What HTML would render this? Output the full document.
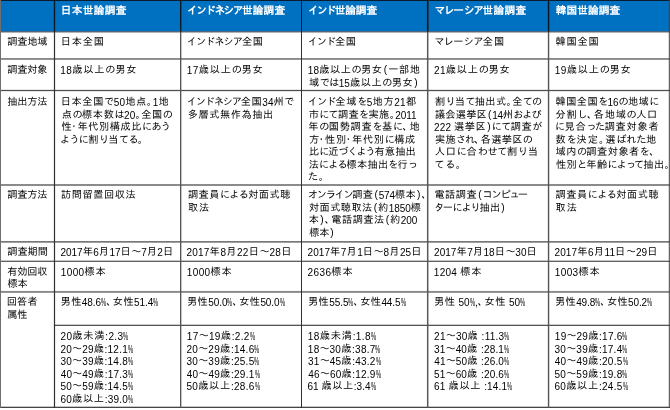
<!DOCTYPE html>
<html lang="ja"><head><meta charset="utf-8"><title>世論調査 調査概要</title>
<style>
html,body{margin:0;padding:0;background:#fff;}
body{width:670px;height:410px;position:relative;overflow:hidden;font-family:"Liberation Sans","IPAGothic","Noto Sans CJK JP",sans-serif;font-size:10.2px;line-height:12.5px;color:#000;}
.g{position:absolute;left:0;top:0;}
.c{position:absolute;white-space:nowrap;will-change:transform;}
.c div{height:12.5px;}
.c div.s{height:12px;}
.hb{color:#fff;font-weight:bold;font-size:10.67px;}
.d{position:relative;top:1px;font-size:10px;}
.p{display:inline-block;width:5.2px;letter-spacing:0;transform:scaleX(.58);transform-origin:0 50%;}
</style></head><body>
<svg class="g" width="670" height="410" viewBox="0 0 670 410">
<rect x="0" y="0" width="670" height="31.5" fill="#0070c0"/>
<rect x="0" y="0" width="670" height="1" fill="#0c1c2c"/>
<rect x="0" y="31.3" width="669.8" height="1.1" fill="#3a4450"/>
<rect x="0" y="58.05" width="669.8" height="1.8" fill="#848484"/>
<rect x="0" y="89.85" width="669.8" height="1.3" fill="#505050"/>
<rect x="0" y="184.15" width="669.8" height="1.7" fill="#787878"/>
<rect x="0" y="241.0" width="669.8" height="1.7" fill="#787878"/>
<rect x="0" y="260.65" width="669.8" height="1.35" fill="#606060"/>
<rect x="0" y="290.95" width="669.8" height="1.9" fill="#888888"/>
<rect x="0" y="406.7" width="669.8" height="1.3" fill="#444444"/>
<rect x="53.9" y="324.7" width="615.9" height="1.3" fill="#555"/>
<rect x="0" y="0" width="1" height="408" fill="#6e6e6e"/>
<rect x="53.9" y="0" width="1.2" height="408" fill="#303030"/>
<rect x="53.9" y="0" width="1.2" height="31.6" fill="#0a1622"/>
<rect x="180.0" y="0" width="1.35" height="408" fill="#555555"/>
<rect x="180.0" y="0" width="1.35" height="31.6" fill="#0a1622"/>
<rect x="301.0" y="0" width="1.0" height="408" fill="#303030"/>
<rect x="301.0" y="0" width="1.0" height="31.6" fill="#0a1622"/>
<rect x="426.95" y="0" width="1.5" height="408" fill="#585858"/>
<rect x="426.95" y="0" width="1.5" height="31.6" fill="#0a1622"/>
<rect x="547.85" y="0" width="1.4" height="408" fill="#555555"/>
<rect x="547.85" y="0" width="1.4" height="31.6" fill="#0a1622"/>
<rect x="668.8" y="0" width="1.0" height="408" fill="#404040"/>
</svg>
<div class="c hb" style="left:62px;top:4.0px"><div style="letter-spacing:0.32px;margin-left:-1.15px">日本世論調査</div></div>
<div class="c hb" style="left:187px;top:4.0px"><div style="letter-spacing:-1.51px">インドネシア<span style="letter-spacing:0.19px">世論調査</span></div></div>
<div class="c hb" style="left:308px;top:4.0px"><div style="letter-spacing:-1.77px">インド<span style="letter-spacing:-0.07px">世論調査</span></div></div>
<div class="c hb" style="left:434px;top:4.0px"><div style="letter-spacing:-1.35px;margin-left:0.65px">マレ<span style="letter-spacing:-0.05px">ー</span>シア<span style="letter-spacing:0.35px">世論調査</span></div></div>
<div class="c hb" style="left:555px;top:4.0px"><div style="letter-spacing:0.1px;margin-left:0.75px">韓国世論調査</div></div>
<div class="c" style="left:7px;top:36.0px"><div style="letter-spacing:-0.15px;margin-left:0.20px">調査地域</div></div>
<div class="c" style="left:61px;top:36.0px"><div style="letter-spacing:0.87px;margin-left:-0.35px">日本全国</div></div>
<div class="c" style="left:187px;top:36.0px"><div style="letter-spacing:-0.99px;margin-left:-0.25px">インドネシア<span style="letter-spacing:0.71px">全国</span></div></div>
<div class="c" style="left:308px;top:36.0px"><div style="letter-spacing:-1.11px;margin-left:-0.25px">インド<span style="letter-spacing:0.59px">全国</span></div></div>
<div class="c" style="left:434px;top:36.0px"><div style="letter-spacing:-0.71px;margin-left:0.40px">マレ<span style="letter-spacing:0.19px">ー</span>シア<span style="letter-spacing:0.99px">全国</span></div></div>
<div class="c" style="left:555px;top:36.0px"><div style="letter-spacing:0.78px;margin-left:0.50px">韓国全国</div></div>
<div class="c" style="left:7px;top:64.0px"><div style="letter-spacing:-0.2px;margin-left:0.20px">調査対象</div></div>
<div class="c" style="left:60px;top:64.0px"><div style="letter-spacing:0.88px;margin-left:0.25px"><span class="d" style="letter-spacing:0.38px">18</span>歳以上<span style="letter-spacing:-0.42px">の</span>男女</div></div>
<div class="c" style="left:187px;top:64.0px"><div style="letter-spacing:0.85px;margin-left:-0.15px"><span class="d" style="letter-spacing:0.35px">17</span>歳以上<span style="letter-spacing:-0.45px">の</span>男女</div></div>
<div class="c" style="left:308px;top:64.0px"><div style="letter-spacing:0.6px;margin-left:-0.15px"><span class="d" style="letter-spacing:0.1px">18</span>歳以上<span style="letter-spacing:-0.7px">の</span>男<span style="letter-spacing:1.6px">女</span><span style="letter-spacing:1.1px">(</span>一部地</div><div style="letter-spacing:0.59px;margin-left:0.90px">域<span style="letter-spacing:-0.71px">では</span><span class="d" style="letter-spacing:0.09px">15</span>歳以上<span style="letter-spacing:-0.71px">の</span>男<span style="letter-spacing:1.59px">女</span><span style="letter-spacing:1.09px">)</span></div></div>
<div class="c" style="left:434px;top:64.0px"><div style="letter-spacing:0.81px;margin-left:0.10px"><span class="d" style="letter-spacing:0.31px">21</span>歳以上<span style="letter-spacing:-0.49px">の</span>男女</div></div>
<div class="c" style="left:555px;top:64.0px"><div style="letter-spacing:0.85px;margin-left:-0.15px"><span class="d" style="letter-spacing:0.35px">19</span>歳以上<span style="letter-spacing:-0.45px">の</span>男女</div></div>
<div class="c" style="left:7px;top:96.0px"><div style="letter-spacing:-0.15px;margin-left:0.20px">抽出方法</div></div>
<div class="c" style="left:61px;top:96.0px"><div style="letter-spacing:0.67px;margin-left:-0.35px">日本全国<span style="letter-spacing:-0.63px">で</span><span class="d" style="letter-spacing:0.17px">50</span>地点<span style="letter-spacing:-4.33px">。</span><span class="d" style="letter-spacing:0.17px">1</span>地</div><div style="letter-spacing:0.63px;margin-left:0.65px">点<span style="letter-spacing:-0.67px">の</span>標本数<span style="letter-spacing:-0.67px">は</span><span class="d" style="letter-spacing:0.13px">20</span><span style="letter-spacing:-4.37px">。</span>全国の</div><div style="letter-spacing:0.55px;margin-left:0.50px"><span style="letter-spacing:-2.95px">性</span><span style="letter-spacing:-1.45px">・</span>年代別構成比<span style="letter-spacing:-0.75px">にあう</span></div><div style="letter-spacing:-0.81px;margin-left:-0.90px">ように<span style="letter-spacing:0.49px">割</span>り<span style="letter-spacing:0.49px">当</span>てる。</div></div>
<div class="c" style="left:187px;top:96.0px"><div style="letter-spacing:-1.17px;margin-left:-0.25px">インドネシア<span style="letter-spacing:0.53px">全国</span><span class="d" style="letter-spacing:0.03px">34</span><span style="letter-spacing:0.53px">州で</span></div><div style="letter-spacing:0.59px;margin-left:0.65px">多層式無作為抽出</div></div>
<div class="c" style="left:308px;top:96.0px"><div style="letter-spacing:0.71px;margin-left:-0.25px"><span style="letter-spacing:-0.99px">インド</span>全域<span style="letter-spacing:-0.59px">を</span><span class="d" style="letter-spacing:0.21px">5</span>地方<span class="d" style="letter-spacing:0.21px">21</span>都</div><div style="letter-spacing:0.42px;margin-left:0.65px">市<span style="letter-spacing:-0.88px">にて</span>調査<span style="letter-spacing:-0.88px">を</span>実施<span style="letter-spacing:-4.58px">。</span><span class="d" style="letter-spacing:-0.08px">2011</span></div><div style="letter-spacing:0.72px;margin-left:0.25px">年<span style="letter-spacing:-0.58px">の</span>国勢調査<span style="letter-spacing:-0.58px">を</span>基<span style="letter-spacing:-0.58px">に</span><span style="letter-spacing:-3.29px">、地</span></div><div style="letter-spacing:0.65px;margin-left:0.90px"><span style="letter-spacing:-2.85px">方</span><span style="letter-spacing:-1.35px">・</span>性<span style="letter-spacing:-2.85px">別</span><span style="letter-spacing:-1.35px">・</span>年代別<span style="letter-spacing:-0.65px">に</span>構成</div><div style="letter-spacing:0.12px;margin-left:0.90px">比<span style="letter-spacing:-1.18px">に</span>近<span style="letter-spacing:-1.18px">づくよう</span>有意抽出</div><div style="letter-spacing:0.26px;margin-left:0.65px">法<span style="letter-spacing:-1.04px">による</span>標本抽出<span style="letter-spacing:-1.04px">を</span>行っ</div><div style="letter-spacing:0.5px">た。</div></div>
<div class="c" style="left:434px;top:96.0px"><div style="letter-spacing:0.42px;margin-left:0.90px">割<span style="letter-spacing:-0.89px">り</span>当<span style="letter-spacing:-0.89px">て</span>抽出式<span style="letter-spacing:-4.58px">。</span>全<span style="letter-spacing:-0.89px">ての</span></div><div style="letter-spacing:0.24px;margin-left:0.90px">議会選挙<span style="letter-spacing:1.24px">区</span><span style="letter-spacing:0.74px">(</span><span class="d" style="letter-spacing:-0.26px">14</span>州<span style="letter-spacing:-1.06px">および</span></div><div style="letter-spacing:0.08px;margin-left:0.10px"><span class="d">222</span> <span style="letter-spacing:0.58px">選挙</span><span style="letter-spacing:1.58px">区</span><span style="letter-spacing:1.08px">)</span><span style="letter-spacing:-0.72px">にて</span><span style="letter-spacing:0.58px">調査が</span></div><div style="letter-spacing:0.3px;margin-left:0.90px">実施<span style="letter-spacing:-1.0px">され</span><span style="letter-spacing:-3.7px">、</span>各選挙区の</div><div style="letter-spacing:-0.42px;margin-left:0.65px"><span style="letter-spacing:0.88px">人口</span>に<span style="letter-spacing:0.88px">合</span>わせて<span style="letter-spacing:0.88px">割</span>り当</div><div style="letter-spacing:0.55px;margin-left:0.40px">てる。</div></div>
<div class="c" style="left:555px;top:96.0px"><div style="letter-spacing:0.47px;margin-left:0.50px">韓国全国<span style="letter-spacing:-0.83px">を</span><span class="d" style="letter-spacing:-0.03px">16</span><span style="letter-spacing:-0.83px">の</span>地域に</div><div style="letter-spacing:0.72px;margin-left:0.50px">分割<span style="letter-spacing:-0.58px">し</span><span style="letter-spacing:-3.28px">、</span>各地域<span style="letter-spacing:-0.58px">の</span>人口</div><div style="letter-spacing:0.77px;margin-left:-0.10px"><span style="letter-spacing:-0.53px">に</span>見合<span style="letter-spacing:-1.73px">っ</span><span style="letter-spacing:-0.53px">た</span>調査対象者</div><div style="letter-spacing:1.01px;margin-left:0.50px">数<span style="letter-spacing:-0.29px">を</span>決定<span style="letter-spacing:-3.99px">。</span>選<span style="letter-spacing:-0.29px">ばれた地</span></div><div style="letter-spacing:0.51px;margin-left:0.50px">域内<span style="letter-spacing:-0.79px">の</span>調査対象者<span style="letter-spacing:-0.79px">を、</span></div><div style="letter-spacing:0.38px;margin-left:0.90px">性別<span style="letter-spacing:-0.92px">と</span>年齢<span style="letter-spacing:-0.92px">によ</span><span style="letter-spacing:-2.12px">っ</span><span style="letter-spacing:-0.92px">て</span>抽出。</div></div>
<div class="c" style="left:7px;top:189.0px"><div style="letter-spacing:-0.15px;margin-left:0.20px">調査方法</div></div>
<div class="c" style="left:61px;top:189.0px"><div style="letter-spacing:0.53px;margin-left:0.10px">訪問留置回収法</div></div>
<div class="c" style="left:187px;top:189.0px"><div style="letter-spacing:0.5px;margin-left:0.90px">調査員<span style="letter-spacing:-0.8px">による</span>対面式聴</div><div style="letter-spacing:0.95px;margin-left:0.90px">取法</div></div>
<div class="c" style="left:308px;top:189.0px"><div style="letter-spacing:-1.33px">オンライン<span style="letter-spacing:0.37px">調</span><span style="letter-spacing:1.37px">査</span><span style="letter-spacing:0.87px">(</span><span class="d" style="letter-spacing:-0.13px">574</span><span style="letter-spacing:0.37px">標</span><span style="letter-spacing:1.37px">本</span><span style="letter-spacing:0.87px">)</span>、</div><div style="letter-spacing:0.45px;margin-left:0.90px">対面式聴取<span style="letter-spacing:1.45px">法</span><span style="letter-spacing:0.95px">(</span>約<span class="d" style="letter-spacing:-0.05px">1850</span>標</div><div style="letter-spacing:0.47px;margin-left:0.65px"><span style="letter-spacing:1.47px">本</span><span style="letter-spacing:0.97px">)</span><span style="letter-spacing:-3.53px">、</span>電話調査<span style="letter-spacing:1.47px">法</span><span style="letter-spacing:0.97px">(</span>約<span class="d" style="letter-spacing:-0.03px">200</span></div><div style="letter-spacing:-0.2px;margin-left:1.15px">標<span style="letter-spacing:0.8px">本</span><span style="letter-spacing:0.3px">)</span></div></div>
<div class="c" style="left:434px;top:189.0px"><div style="letter-spacing:0.49px;margin-left:0.40px">電話調<span style="letter-spacing:1.49px">査</span><span style="letter-spacing:0.99px">(</span><span style="letter-spacing:-1.21px">コンピ</span><span style="letter-spacing:-2.01px">ュー</span></div><div style="letter-spacing:-1.12px;margin-left:0.15px"><span style="letter-spacing:-1.52px">タ</span><span style="letter-spacing:-0.62px">ー</span>により<span style="letter-spacing:0.18px">抽</span><span style="letter-spacing:1.18px">出</span><span style="letter-spacing:0.68px">)</span></div></div>
<div class="c" style="left:555px;top:189.0px"><div style="letter-spacing:0.59px;margin-left:0.50px">調査員<span style="letter-spacing:-0.71px">による</span>対面式聴</div><div style="letter-spacing:0.95px;margin-left:0.50px">取法</div></div>
<div class="c" style="left:7px;top:246.0px"><div style="letter-spacing:0.02px;margin-left:0.20px">調査期間</div></div>
<div class="c" style="left:60px;top:246.0px"><div style="letter-spacing:-0.03px;margin-left:0.50px"><span class="d">2017</span><span style="letter-spacing:0.47px">年</span><span class="d">6</span><span style="letter-spacing:0.47px">月</span><span class="d">17</span><span style="letter-spacing:0.47px">日</span><span style="letter-spacing:-0.33px">〜</span><span class="d">7</span><span style="letter-spacing:0.47px">月</span><span class="d">2</span>日</div></div>
<div class="c" style="left:186px;top:246.0px"><div style="letter-spacing:0.2px;margin-left:0.50px"><span class="d">2017</span><span style="letter-spacing:0.7px">年</span><span class="d">8</span><span style="letter-spacing:0.7px">月</span><span class="d">22</span><span style="letter-spacing:0.7px">日</span><span style="letter-spacing:-0.1px">〜</span><span class="d">28</span>日</div></div>
<div class="c" style="left:307px;top:246.0px"><div style="letter-spacing:0.07px;margin-left:0.50px"><span class="d">2017</span><span style="letter-spacing:0.57px">年</span><span class="d">7</span><span style="letter-spacing:0.57px">月</span><span class="d">1</span><span style="letter-spacing:0.57px">日</span><span style="letter-spacing:-0.23px">〜</span><span class="d">8</span><span style="letter-spacing:0.57px">月</span><span class="d">25</span>日</div></div>
<div class="c" style="left:434px;top:246.0px"><div style="letter-spacing:0.03px;margin-left:0.10px"><span class="d">2017</span><span style="letter-spacing:0.53px">年</span><span class="d">7</span><span style="letter-spacing:0.53px">月</span><span class="d">18</span><span style="letter-spacing:0.53px">日</span><span style="letter-spacing:-0.27px">〜</span><span class="d">30</span>日</div></div>
<div class="c" style="left:554px;top:246.0px"><div style="letter-spacing:0.11px;margin-left:0.50px"><span class="d">2017</span><span style="letter-spacing:0.61px">年</span><span class="d">6</span><span style="letter-spacing:0.61px">月</span><span class="d">11</span><span style="letter-spacing:0.61px">日</span><span style="letter-spacing:-0.19px">〜</span><span class="d">29</span>日</div></div>
<div class="c" style="left:7px;top:266.0px"><div class="s" style="letter-spacing:-0.15px;margin-left:0.20px">有効回収</div><div style="letter-spacing:-0.2px;margin-left:0.45px">標本</div></div>
<div class="c" style="left:61px;top:266.0px"><div style="letter-spacing:0.33px;margin-left:-0.15px"><span class="d">1000</span><span style="letter-spacing:0.83px">標本</span></div></div>
<div class="c" style="left:187px;top:266.0px"><div style="letter-spacing:0.33px;margin-left:-0.15px"><span class="d">1000</span><span style="letter-spacing:0.83px">標本</span></div></div>
<div class="c" style="left:307px;top:266.0px"><div style="letter-spacing:0.4px;margin-left:0.50px"><span class="d">2636</span><span style="letter-spacing:0.9px">標本</span></div></div>
<div class="c" style="left:434px;top:266.0px"><div style="letter-spacing:0.25px;margin-left:-0.15px"><span class="d">1204</span> <span style="letter-spacing:0.75px">標本</span></div></div>
<div class="c" style="left:555px;top:266.0px"><div style="letter-spacing:0.33px;margin-left:-0.15px"><span class="d">1003</span><span style="letter-spacing:0.83px">標本</span></div></div>
<div class="c" style="left:7px;top:296.0px"><div style="letter-spacing:0.15px;margin-left:-0.30px">回答者</div><div style="letter-spacing:-0.2px;margin-left:0.20px">属性</div></div>
<div class="c" style="left:61px;top:296.0px"><div style="letter-spacing:-0.08px;margin-left:-0.40px"><span style="letter-spacing:0.42px">男性</span><span class="d">48.6<span class="p">%</span></span><span style="letter-spacing:-3.58px">、</span><span style="letter-spacing:0.42px">女性</span><span class="d">51.4<span class="p">%</span></span></div></div>
<div class="c" style="left:187px;top:296.0px"><div style="letter-spacing:-0.08px"><span style="letter-spacing:0.42px">男性</span><span class="d">50.0<span class="p">%</span></span><span style="letter-spacing:-3.58px">、</span><span style="letter-spacing:0.42px">女性</span><span class="d">50.0<span class="p">%</span></span></div></div>
<div class="c" style="left:308px;top:296.0px"><div style="letter-spacing:-0.08px"><span style="letter-spacing:0.42px">男性</span><span class="d">55.5<span class="p">%</span></span><span style="letter-spacing:-3.58px">、</span><span style="letter-spacing:0.42px">女性</span><span class="d">44.5<span class="p">%</span></span></div></div>
<div class="c" style="left:434px;top:296.0px"><div style="letter-spacing:0.07px"><span style="letter-spacing:0.57px">男性</span> <span class="d">50<span class="p">%</span>,</span><span style="letter-spacing:-3.43px">、</span><span style="letter-spacing:0.57px">女性</span> <span class="d">50<span class="p">%</span></span></div></div>
<div class="c" style="left:555px;top:296.0px"><div style="letter-spacing:-0.12px"><span style="letter-spacing:0.38px">男性</span><span class="d">49.8<span class="p">%</span></span><span style="letter-spacing:-3.62px">、</span><span style="letter-spacing:0.38px">女性</span><span class="d">50.2<span class="p">%</span></span></div></div>
<div class="c" style="left:60px;top:330.0px"><div style="letter-spacing:0.33px;margin-left:0.50px"><span class="d">20</span><span style="letter-spacing:0.83px">歳未満</span><span class="d">:2.3<span class="p">%</span></span></div><div style="letter-spacing:0.21px;margin-left:0.50px"><span class="d">20</span><span style="letter-spacing:-0.09px">〜</span><span class="d">29</span><span style="letter-spacing:0.71px">歳</span><span class="d">:12.1<span class="p">%</span></span></div><div style="letter-spacing:0.21px;margin-left:0.50px"><span class="d">30</span><span style="letter-spacing:-0.09px">〜</span><span class="d">39</span><span style="letter-spacing:0.71px">歳</span><span class="d">:14.8<span class="p">%</span></span></div><div style="letter-spacing:0.19px;margin-left:0.75px"><span class="d">40</span><span style="letter-spacing:-0.11px">〜</span><span class="d">49</span><span style="letter-spacing:0.69px">歳</span><span class="d">:17.3<span class="p">%</span></span></div><div style="letter-spacing:0.21px;margin-left:0.50px"><span class="d">50</span><span style="letter-spacing:-0.09px">〜</span><span class="d">59</span><span style="letter-spacing:0.71px">歳</span><span class="d">:14.5<span class="p">%</span></span></div><div style="letter-spacing:0.2px;margin-left:0.50px"><span class="d">60</span><span style="letter-spacing:0.7px">歳以上</span><span class="d">:39.0<span class="p">%</span></span></div></div>
<div class="c" style="left:186px;top:330.0px"><div style="letter-spacing:0.34px;margin-left:0.85px"><span class="d">17</span><span style="letter-spacing:0.04px">〜</span><span class="d">19</span><span style="letter-spacing:0.84px">歳</span><span class="d">:2.2<span class="p">%</span></span></div><div style="letter-spacing:0.26px;margin-left:0.50px"><span class="d">20</span><span style="letter-spacing:-0.04px">〜</span><span class="d">29</span><span style="letter-spacing:0.76px">歳</span><span class="d">:14.6<span class="p">%</span></span></div><div style="letter-spacing:0.26px;margin-left:0.50px"><span class="d">30</span><span style="letter-spacing:-0.04px">〜</span><span class="d">39</span><span style="letter-spacing:0.76px">歳</span><span class="d">:25.5<span class="p">%</span></span></div><div style="letter-spacing:0.24px;margin-left:0.75px"><span class="d">40</span><span style="letter-spacing:-0.06px">〜</span><span class="d">49</span><span style="letter-spacing:0.74px">歳</span><span class="d">:29.1<span class="p">%</span></span></div><div style="letter-spacing:0.26px;margin-left:0.50px"><span class="d">50</span><span style="letter-spacing:0.76px">歳以上</span><span class="d">:28.6<span class="p">%</span></span></div></div>
<div class="c" style="left:307px;top:330.0px"><div style="letter-spacing:0.34px;margin-left:0.85px"><span class="d">18</span><span style="letter-spacing:0.84px">歳未満</span><span class="d">:1.8<span class="p">%</span></span></div><div style="letter-spacing:0.23px;margin-left:0.85px"><span class="d">18</span><span style="letter-spacing:-0.07px">〜</span><span class="d">30</span><span style="letter-spacing:0.73px">歳</span><span class="d">:38.7<span class="p">%</span></span></div><div style="letter-spacing:0.21px;margin-left:1.10px"><span class="d">31</span><span style="letter-spacing:-0.09px">〜</span><span class="d">45</span><span style="letter-spacing:0.71px">歳</span><span class="d">:43.2<span class="p">%</span></span></div><div style="letter-spacing:0.19px;margin-left:1.35px"><span class="d">46</span><span style="letter-spacing:-0.11px">〜</span><span class="d">60</span><span style="letter-spacing:0.69px">歳</span><span class="d">:12.9<span class="p">%</span></span></div><div style="letter-spacing:0.04px;margin-left:0.50px"><span class="d">61</span> <span style="letter-spacing:0.54px">歳以上</span><span class="d">:3.4<span class="p">%</span></span></div></div>
<div class="c" style="left:434px;top:330.0px"><div style="letter-spacing:0.26px;margin-left:0.10px"><span class="d">21</span><span style="letter-spacing:-0.04px">〜</span><span class="d">30</span><span style="letter-spacing:0.76px">歳</span> <span class="d">:11.3<span class="p">%</span></span></div><div style="letter-spacing:0.17px;margin-left:0.10px"><span class="d">31</span><span style="letter-spacing:-0.13px">〜</span><span class="d">40</span><span style="letter-spacing:0.67px">歳</span> <span class="d">:28.1<span class="p">%</span></span></div><div style="letter-spacing:0.15px;margin-left:0.35px"><span class="d">41</span><span style="letter-spacing:-0.15px">〜</span><span class="d">50</span><span style="letter-spacing:0.65px">歳</span> <span class="d">:26.0<span class="p">%</span></span></div><div style="letter-spacing:0.17px;margin-left:0.10px"><span class="d">51</span><span style="letter-spacing:-0.13px">〜</span><span class="d">60</span><span style="letter-spacing:0.67px">歳</span> <span class="d">:20.6<span class="p">%</span></span></div><div style="letter-spacing:0.17px;margin-left:0.10px"><span class="d">61</span> <span style="letter-spacing:0.67px">歳以上</span> <span class="d">:14.1<span class="p">%</span></span></div></div>
<div class="c" style="left:554px;top:330.0px"><div style="letter-spacing:0.23px;margin-left:0.85px"><span class="d">19</span><span style="letter-spacing:-0.07px">〜</span><span class="d">29</span><span style="letter-spacing:0.73px">歳</span><span class="d">:17.6<span class="p">%</span></span></div><div style="letter-spacing:0.26px;margin-left:0.50px"><span class="d">30</span><span style="letter-spacing:-0.04px">〜</span><span class="d">39</span><span style="letter-spacing:0.76px">歳</span><span class="d">:17.4<span class="p">%</span></span></div><div style="letter-spacing:0.24px;margin-left:0.75px"><span class="d">40</span><span style="letter-spacing:-0.06px">〜</span><span class="d">49</span><span style="letter-spacing:0.74px">歳</span><span class="d">:20.5<span class="p">%</span></span></div><div style="letter-spacing:0.26px;margin-left:0.50px"><span class="d">50</span><span style="letter-spacing:-0.04px">〜</span><span class="d">59</span><span style="letter-spacing:0.76px">歳</span><span class="d">:19.8<span class="p">%</span></span></div><div style="letter-spacing:0.26px;margin-left:0.50px"><span class="d">60</span><span style="letter-spacing:0.76px">歳以上</span><span class="d">:24.5<span class="p">%</span></span></div></div>
</body></html>
